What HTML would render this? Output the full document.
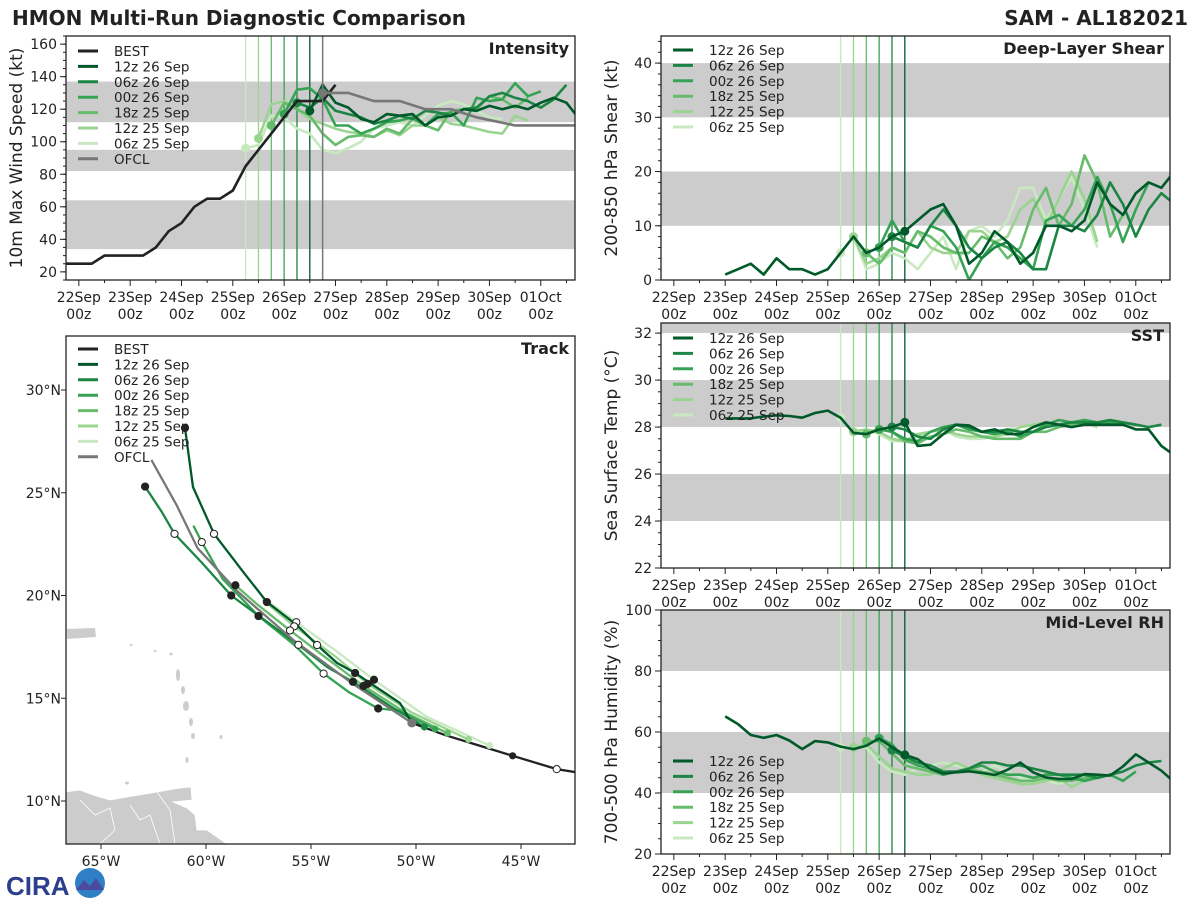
<!DOCTYPE html>
<html><head><meta charset="utf-8"><style>
body{margin:0;background:#fff;}
svg{display:block;font-family:"DejaVu Sans","Liberation Sans",sans-serif;}
</style></head><body>
<svg id="chart" width="1200" height="900" viewBox="0 0 1200 900" xmlns="http://www.w3.org/2000/svg">
<text x="12" y="25" font-size="20" font-weight="bold" fill="#222">HMON Multi-Run Diagnostic Comparison</text>
<text x="1188" y="25" font-size="20" font-weight="bold" fill="#222" text-anchor="end">SAM - AL182021</text>
<g id="logo">
<text x="6" y="895" font-size="26" font-weight="bold" fill="#2b3f8c" font-family="Liberation Sans, sans-serif">CIRA</text>
<circle cx="90" cy="883" r="15" fill="#2f7fc5"/>
<path d="M76 890 L84 880 L90 886 L96 878 L104 890 Z" fill="#4a4aa0"/>
</g>
</svg>
<script>
// ---------- data ----------
const runNames = ['12z 26 Sep','06z 26 Sep','00z 26 Sep','18z 25 Sep','12z 25 Sep','06z 25 Sep'];
const runInit = [108,102,96,90,84,78];
const runColors = ['#00592a','#1b8543','#36a354','#67bb6c','#9ad490','#c8e9c0'];

const bestStart = -6;
const intBest = [25,25,25,30,30,30,30,35,45,50,60,65,65,70,85,95,105,115,125,125,125,135];
const ofclHours = [114,126,138,150,162,174,186,204,232];
const intOfcl = [130,130,125,125,120,120,115,110,110];
const int12z26 = [119,135,124,121,114,112,117,116,117,110,115,116,120,119,122,120,122,120,124,127,124,114];
const int06z26 = [124,121,127,119,117,115,111,113,116,114,119,118,116,120,121,128,130,127,125,121,126,135];
const int00z26 = [117,132,133,126,110,110,105,108,112,113,115,110,117,118,110,127,125,126,136,128,131];
const int18z25 = [110,124,120,116,105,98,103,104,103,108,105,114,110,107,119,120,120,128,126,121,127];
const int12z25 = [102,123,125,120,114,111,108,106,105,103,107,104,110,110,115,111,110,108,106,105,116,113];
const int06z25 = [96,98,116,115,108,105,95,93,96,100,108,110,112,110,116,122,125,123,119,115,114];

const histStart = 24;
const shr12z26 = [1,2,3,1,4,2,2,1,2,5,8,5,6,8,9,11,13,14,10,3,5,9,7,3,5,10,10,9,11,18,14,12,16,18,17,20];
const shr06z26 = [8,7,6,10,13,10,6,4,6,7,5,2,2,10,10,9,12,18,14,8,13,16,14];
const shr00z26 = [6,11,7,6,10,9,6,0,4,7,6,4,2,11,12,10,13,19,14,7,13,18];
const shr18z25 = [5,3,6,5,9,8,6,5,5,8,7,4,6,13,17,10,14,23,18,8,12];
const shr12z25 = [8,3,4,6,5,9,6,5,5,9,9,7,8,13,15,10,15,20,15,7];
const shr06z25 = [5,8,2,3,5,4,2,5,8,2,9,10,8,11,17,17,11,15,19,13,6];

const sst12z26 = [28.37,28.37,28.37,28.45,28.5,28.47,28.4,28.6,28.7,28.4,27.75,27.7,27.9,28.0,28.2,27.2,27.25,27.7,28.1,28.07,27.8,27.9,27.7,27.7,28.0,28.2,28.1,28.0,28.1,28.1,28.1,28.1,27.9,27.9,27.2,26.8];
const sst06z26 = [28.0,27.9,27.6,27.5,27.9,28.1,28.0,27.8,27.8,27.9,27.8,27.8,28.0,28.1,28.2,28.2,28.2,28.3,28.2,28.1,28.0,28.1];
const sst00z26 = [27.9,27.8,27.5,27.4,27.8,28.0,28.1,27.9,27.8,27.7,27.8,27.6,27.8,28.1,28.3,28.2,28.3,28.2,28.2,28.2,28.1];
const sst18z25 = [27.7,27.9,27.8,27.4,27.3,27.6,27.7,27.9,27.8,27.6,27.5,27.5,27.5,27.8,27.8,28.0,28.1,28.1,28.2,28.1];
const sst12z25 = [27.8,27.9,27.8,27.5,27.4,27.7,27.8,27.9,27.7,27.6,27.6,27.6,27.7,28.0,28.1,28.2,28.1,28.2,28.2,28.0];
const sst06z25 = [28.4,27.8,27.9,27.7,27.4,27.4,27.6,27.8,27.9,27.6,27.5,27.5,27.6,27.9,28.0,28.1,28.0,28.1,28.2,28.1];

const rh12z26 = [65.1,62.6,59,58.1,59,57.2,54.4,57,56.6,55.2,54.4,55.5,57.9,55,52.5,51.1,47.9,46.4,46.8,47.1,46.6,45.9,47.6,50,46.8,45.1,44.6,44.6,46.2,46,45.7,48.7,52.7,50,47.3,43.5];
const rh06z26 = [54,52,50,49,47,47,48,50,50,49,49,48,47,46,46,46,45,46,47,49,50,50.5];
const rh00z26 = [58,56,51,49,48,46,47,48,49,47,46,46,45,46,46,45,44,45,46,44,47];
const rh18z25 = [57,57,53,49,48,47,46,47,48,47,46,45,44,44,45,44,44,45,45,46];
const rh12z25 = [55,56,52,48,47,46,46,48,50,48,46,45,44,43,43,44,45,42,44,45];
const rh06z25 = [55,55,55,50,47,46,48,49,50,49,48,47,49,47,45,44,44,43,44,45];

const trackBest = [[-42.4,11.4],[-43.3,11.55],[-45.4,12.2],[-47,12.7],[-48.6,13.2],[-50.2,13.8]];
const trackOfcl = [[-50.2,13.8],[-53,15.7],[-55.8,17.8],[-58.5,20.2],[-60.4,22.3],[-61.4,24.4],[-62.6,26.6]];
const track12z26 = [[-50.2,13.8],[-50.76,14.77],[-52.9,16.23],[-53.76,16.72],[-54.71,17.59],[-55.67,18.56],[-57.1,19.68],[-58.19,21.1],[-59.62,23.0],[-60.62,25.28],[-61.0,28.15]];
const track06z26 = [[-49.6,13.6],[-51.2,14.6],[-53,15.8],[-54.2,16.5],[-55.6,17.6],[-57.2,18.8],[-58.8,20.0],[-60.2,21.6],[-61.5,23.0],[-62.1,24.06],[-62.9,25.3]];
const track00z26 = [[-49.1,13.5],[-50.8,14.4],[-51.8,14.5],[-53.2,15.3],[-54.4,16.2],[-55.8,17.6],[-57.5,19.0],[-59.2,20.8],[-60.2,22.6],[-60.6,23.4]];
const track18z25 = [[-48.5,13.3],[-50.5,14.3],[-52.5,15.6],[-54.2,16.9],[-56,18.3],[-57.6,19.6],[-58.6,20.5]];
const track12z25 = [[-47.5,13.0],[-50.2,14.3],[-52.3,15.7],[-53.8,17],[-55.8,18.5],[-57.3,19.8]];
const track06z25 = [[-46.5,12.7],[-49.5,14.1],[-52,15.9],[-53.8,17.3],[-55.7,18.7],[-57.3,19.9]];

const dayLabels = ['22Sep','23Sep','24Sep','25Sep','26Sep','27Sep','28Sep','29Sep','30Sep','01Oct'];
const lonTicks = [-65,-60,-55,-50,-45];
const latTicks = [10,15,20,25,30];

// ---------- helpers ----------
const svg = document.getElementById('chart');
const NS = 'http://www.w3.org/2000/svg';
function mk(tag, attrs, parent){const e=document.createElementNS(NS,tag);for(const k in attrs)e.setAttribute(k,attrs[k]);(parent||svg).appendChild(e);return e;}
const T0=-6, T1=232;

function timePanel(id, x0, x1, y0, y1, vmin, vmax, bands, ticks, minorStep, ylabel, title, runsData, extra, legendY, showBestLegend){
  const g = mk('g',{});
  
  
  const X = h => x0 + (h - T0) * (x1 - x0) / (T1 - T0);
  const Y = v => y1 - (v - vmin) * (y1 - y0) / (vmax - vmin);
  mk('clipPath',{id:'clip-'+id},g).appendChild(Object.assign(document.createElementNS(NS,'rect'),{}));
  const cp = g.lastChild.firstChild; cp.setAttribute('x',x0);cp.setAttribute('y',y0);cp.setAttribute('width',x1-x0);cp.setAttribute('height',y1-y0);
  bands.forEach(b=>{const r=mk('rect',{x:x0,y:Y(Math.min(b[1],vmax)),width:x1-x0,height:Y(b[0])-Y(Math.min(b[1],vmax)),fill:'#cccccc'},g);
    
    });
  // init lines
  runInit.forEach((t,i)=>{const l=mk('line',{x1:X(t),x2:X(t),y1:y0,y2:y1,stroke:runColors[i],'stroke-width':1.3},g);
    
    });
  const pg = mk('g',{'clip-path':'url(#clip-'+id+')'},g);
  if(extra && extra.ofclLine){const l=mk('line',{x1:X(114),x2:X(114),y1:y0,y2:y1,stroke:'#777','stroke-width':1.5},g);}
  for(let i=runsData.length-1;i>=0;i--){
    const r = runsData[i]; if(!r) continue;
    const pts = r.vals.map((v,k)=>X(r.start+6*k).toFixed(1)+','+Y(v).toFixed(1)).join(' ');
    const pl = mk('polyline',{points:pts,fill:'none',stroke:runColors[i],'stroke-width':2.6,'stroke-linejoin':'round'},pg);
    
    
    const k0 = Math.round((runInit[i]-r.start)/6);
    if(k0>=0 && k0<r.vals.length){const c=mk('circle',{cx:X(runInit[i]),cy:Y(r.vals[k0]),r:4.5,fill:runColors[i]},pg);
      
      }
  }
  if(extra && extra.best){
    const pts = extra.best.map((v,k)=>X(bestStart+6*k)+','+Y(v)).join(' ');
    const pl=mk('polyline',{points:pts,fill:'none',stroke:'#222','stroke-width':2.6},pg);
    
    
    const pts2 = extra.ofcl.map((v,k)=>X(ofclHours[k])+','+Y(v)).join(' ');
    const pl2=mk('polyline',{points:pts2,fill:'none',stroke:'#777','stroke-width':2.6},pg);
    
    
    mk('circle',{cx:X(114),cy:Y(extra.ofcl[0]),r:4.5,fill:'#777'},pg);
  }
  mk('rect',{x:x0,y:y0,width:x1-x0,height:y1-y0,fill:'none',stroke:'#222','stroke-width':1.3},g);
  // y ticks
  ticks.forEach(v=>{mk('line',{x1:x0-6,x2:x0,y1:Y(v),y2:Y(v),stroke:'#222'},g);
    const t=mk('text',{x:x0-9,y:Y(v)+5,'font-size':14,'text-anchor':'end',fill:'#222'},g);t.textContent=v;
    
    });
  for(let v=vmin;v<=vmax;v+=minorStep){mk('line',{x1:x0-3,x2:x0,y1:Y(v),y2:Y(v),stroke:'#222'},g);}
  // x ticks
  dayLabels.forEach((d,i)=>{const x=X(24*i);mk('line',{x1:x,x2:x,y1:y1,y2:y1+6,stroke:'#222'},g);
    mk('line',{x1:X(24*i+12),x2:X(24*i+12),y1:y1,y2:y1+3,stroke:'#222'},g);
    const t=mk('text',{x:x,y:y1+22,'font-size':14,'text-anchor':'middle',fill:'#222'},g);t.textContent=d;
    
    
    const t2=mk('text',{x:x,y:y1+39,'font-size':14,'text-anchor':'middle',fill:'#222'},g);t2.textContent='00z';});
  const yl=mk('text',{x:0,y:0,'font-size':17,'text-anchor':'middle',fill:'#222',transform:`translate(${x0-44},${(y0+y1)/2}) rotate(-90)`},g);yl.textContent=ylabel;
  
  
  const tt=mk('text',{x:x1-6,y:y0+18,'font-size':16,'font-weight':'bold','text-anchor':'end',fill:'#222'},g);tt.textContent=title;
  
  
  legend(g, x0, legendY, showBestLegend, id);
}
function legend(g, x0, ly, withBest, id){
  const items=[];
  if(withBest) items.push(['BEST','#222']);
  runNames.forEach((n,i)=>items.push([n,runColors[i]]));
  if(withBest) items.push(['OFCL','#777']);
  items.forEach((it,k)=>{const y=ly+k*15.4;
    const l=mk('line',{x1:x0+12,x2:x0+32,y1:y,y2:y,stroke:it[1],'stroke-width':3},g);
    
    
    const t=mk('text',{x:x0+48,y:y+5,'font-size':13.5,fill:'#222'},g);t.textContent=it[0];
    
    });
}

timePanel('intensity',66,575,36,280,15,165,[[34,64],[82,95],[112,137]],[20,40,60,80,100,120,140,160],5,'10m Max Wind Speed (kt)','Intensity',
  [{start:108,vals:int12z26},{start:102,vals:int06z26},{start:96,vals:int00z26},{start:90,vals:int18z25},{start:84,vals:int12z25},{start:78,vals:int06z25}],
  {best:intBest,ofcl:intOfcl,ofclLine:true},51,true);
timePanel('shear',661,1170,36,280,0,45,[[10,20],[30,40]],[0,10,20,30,40],2,'200-850 hPa Shear (kt)','Deep-Layer Shear',
  [{start:histStart,vals:shr12z26},{start:102,vals:shr06z26},{start:96,vals:shr00z26},{start:90,vals:shr18z25},{start:84,vals:shr12z25},{start:78,vals:shr06z25}],null,50,false);
timePanel('sst',661,1170,323,568,22,32.43,[[24,26],[28,30],[32,33]],[22,24,26,28,30,32],0.5,'Sea Surface Temp (°C)','SST',
  [{start:histStart,vals:sst12z26},{start:102,vals:sst06z26},{start:96,vals:sst00z26},{start:90,vals:sst18z25},{start:84,vals:sst12z25},{start:78,vals:sst06z25}],null,338,false);
timePanel('rh',661,1170,610,854,20,100,[[40,60],[80,100]],[20,40,60,80,100],5,'700-500 hPa Humidity (%)','Mid-Level RH',
  [{start:histStart,vals:rh12z26},{start:102,vals:rh06z26},{start:96,vals:rh00z26},{start:90,vals:rh18z25},{start:84,vals:rh12z25},{start:78,vals:rh06z25}],null,761,false);

// ---------- track map ----------
(function(){
  const x0=66,x1=575,y0=336,y1=844;
  const g=mk('g',{});
  
  
  const LX = lon => 101 + (lon + 65) * 21;
  const LY = lat => 801 - (lat - 10) * 20.55;
  const cp=mk('clipPath',{id:'clip-track'},g); mk('rect',{x:x0,y:y0,width:x1-x0,height:y1-y0},cp);
  const mg=mk('g',{'clip-path':'url(#clip-track)'},g);
  const land=mk('path',{d:'M66 792 L80 790 L93 795 L110 800 L127 797 L157 792 L180 788 L191 787 L192 800 L173 802 L187 808 L195 815 L197 830 L207 830 L227 844 L66 844 Z',fill:'#cccccc',stroke:'#fff','stroke-width':0.8},mg);
  
  
  mk('path',{d:'M80 800 L95 815 L110 808 L115 830 L100 844 M130 805 L140 820 L150 815 L160 844 M157 792 L170 810 L175 844',fill:'none',stroke:'#fff','stroke-width':0.8},mg);
  const pr=mk('path',{d:'M67 629 L95 628 L96 637 L67 639 Z',fill:'#cccccc'},mg);
  
  
  [[178,675,2,6],[183,690,2,4],[186,706,3,5],[191,722,2,4],[193,736,2,3],[187,760,1.5,3],[221,737,1.5,2],[127,783,2,1.5],[131,645,1.5,1],[155,651,1.5,1],[171,654,1.5,1.5]].forEach(e=>mk('ellipse',{cx:e[0],cy:e[1],rx:e[2],ry:e[3],fill:'#cccccc'},mg));
  const tracks=[track12z26,track06z26,track00z26,track18z25,track12z25,track06z25];
  function drawTrack(tr,color,name){
    const pl=mk('polyline',{points:tr.map(p=>LX(p[0]).toFixed(1)+','+LY(p[1]).toFixed(1)).join(' '),fill:'none',stroke:color,'stroke-width':2.3},mg);
    
    
    return pl;
  }
  for(let i=5;i>=0;i--) drawTrack(tracks[i],runColors[i],'track-'+runNames[i].replace(/ /g,'-').toLowerCase());
  drawTrack(trackOfcl,'#777','track-ofcl');
  drawTrack(trackBest,'#222','track-best');
  // markers
  for(let i=5;i>=0;i--){const tr=tracks[i];
    tr.forEach((p,k)=>{ if(k===0){mk('circle',{cx:LX(p[0]),cy:LY(p[1]),r:3.5,fill:runColors[i]},mg);return;}
      if(k%2===0){const filled=(k/2)%2===1;
        const c=mk('circle',{cx:LX(p[0]),cy:LY(p[1]),r:3.6,fill:filled?'#222':'#fff',stroke:'#222','stroke-width':1},mg);
        
        }});}
  mk('circle',{cx:LX(trackBest[1][0]),cy:LY(trackBest[1][1]),r:3.6,fill:'#fff',stroke:'#222'},mg);
  mk('circle',{cx:LX(trackBest[2][0]),cy:LY(trackBest[2][1]),r:3.6,fill:'#222'},mg);
  mk('circle',{cx:LX(trackOfcl[0][0]),cy:LY(trackOfcl[0][1]),r:4.5,fill:'#777'},mg);
  mk('rect',{x:x0,y:y0,width:x1-x0,height:y1-y0,fill:'none',stroke:'#222','stroke-width':1.3},g);
  lonTicks.forEach(l=>{const x=LX(l);mk('line',{x1:x,x2:x,y1:y1,y2:y1+5,stroke:'#222'},g);
    const t=mk('text',{x:x,y:y1+22,'font-size':14,'text-anchor':'middle',fill:'#222'},g);t.textContent=Math.abs(l)+'°W';
    
    });
  latTicks.forEach(l=>{const y=LY(l);mk('line',{x1:x0-5,x2:x0,y1:y,y2:y,stroke:'#222'},g);
    const t=mk('text',{x:x0-5,y:y+5,'font-size':14,'text-anchor':'end',fill:'#222'},g);t.textContent=l+'°N';
    
    });
  const tt=mk('text',{x:x1-6,y:y0+18,'font-size':16,'font-weight':'bold','text-anchor':'end',fill:'#222'},g);tt.textContent='Track';
  
  
  legend(g,x0,349,true,'track');
})();
</script>
</body></html>
